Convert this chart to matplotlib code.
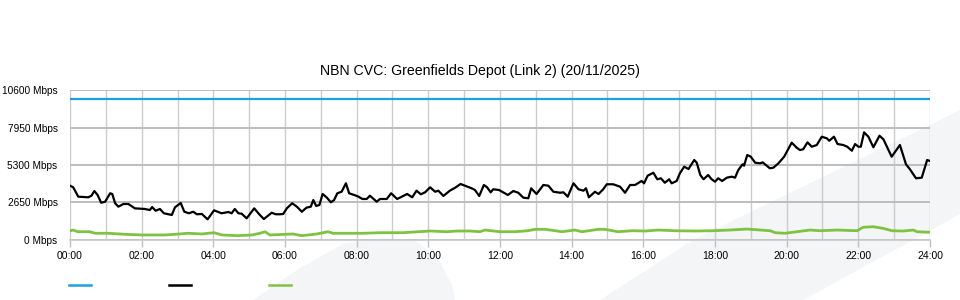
import matplotlib
matplotlib.use("Agg")
import matplotlib.pyplot as plt
from matplotlib.lines import Line2D
from matplotlib.patches import Polygon

plt.rcParams['font.family'] = ['Liberation Sans', 'DejaVu Sans']

title = "NBN CVC: Greenfields Depot (Link 2) (20/11/2025)"

# y axis
y_ticks = [0, 2650, 5300, 7950, 10600]
y_labels = ["0 Mbps", "2650 Mbps", "5300 Mbps", "7950 Mbps", "10600 Mbps"]

# x axis (hours of the day)
x_ticks = [0, 2, 4, 6, 8, 10, 12, 14, 16, 18, 20, 22, 24]
x_labels = ["00:00", "02:00", "04:00", "06:00", "08:00", "10:00", "12:00",
            "14:00", "16:00", "18:00", "20:00", "22:00", "24:00"]

# capacity line (blue)
cap_t = [0, 24]
cap_v = [10000, 10000]

# download traffic (black)
down_t = [0.00, 0.09, 0.23, 0.51, 0.60, 0.68, 0.77, 0.87, 0.98, 1.12, 1.18, 1.26,
          1.35, 1.49, 1.63, 1.81, 2.09, 2.23, 2.29, 2.39, 2.51, 2.62, 2.84, 2.93,
          3.09, 3.19, 3.32, 3.44, 3.54, 3.68, 3.84, 4.02, 4.23, 4.42, 4.51, 4.60,
          4.70, 4.79, 4.93, 5.14, 5.28, 5.41, 5.63, 5.74, 5.86, 5.95, 6.05, 6.20,
          6.33, 6.47, 6.60, 6.72, 6.79, 6.87, 6.96, 7.05, 7.16, 7.28, 7.37, 7.46,
          7.58, 7.70, 7.79, 7.93, 8.05, 8.16, 8.28, 8.37, 8.56, 8.65, 8.84, 8.96,
          9.13, 9.26, 9.41, 9.55, 9.67, 9.79, 9.91, 10.05, 10.19, 10.28, 10.42, 10.60,
          10.75, 10.90, 11.02, 11.21, 11.30, 11.42, 11.55, 11.64, 11.74, 11.81, 11.97, 12.22,
          12.37, 12.51, 12.65, 12.79, 12.87, 13.02, 13.21, 13.35, 13.49, 13.68, 13.77, 13.89,
          14.05, 14.19, 14.33, 14.40, 14.48, 14.65, 14.75, 14.88, 14.98, 15.16, 15.35, 15.49,
          15.63, 15.77, 15.95, 16.02, 16.12, 16.28, 16.39, 16.49, 16.60, 16.72, 16.79, 16.93,
          17.02, 17.14, 17.26, 17.42, 17.49, 17.59, 17.68, 17.81, 17.90, 18.00, 18.09, 18.20,
          18.33, 18.47, 18.56, 18.65, 18.77, 18.81, 18.90, 19.00, 19.12, 19.26, 19.33, 19.53,
          19.63, 19.77, 19.93, 20.14, 20.28, 20.37, 20.46, 20.58, 20.70, 20.84, 20.98, 21.12,
          21.19, 21.32, 21.42, 21.58, 21.69, 21.82, 21.91, 22.00, 22.07, 22.16, 22.28, 22.42,
          22.59, 22.70, 22.93, 23.16, 23.33, 23.44, 23.61, 23.77, 23.92, 24.00]
down_v = [3830, 3715, 3050, 3005, 3120, 3450, 3170, 2620, 2690, 3290, 3240, 2580,
          2340, 2530, 2530, 2220, 2175, 2100, 2315, 2050, 2175, 1870, 1750, 2295,
          2600, 1980, 1870, 1980, 1800, 1820, 1440, 2080, 1870, 1960, 1870, 2175,
          1870, 1840, 1510, 2220, 1800, 1460, 1910, 1800, 1800, 1820, 2220, 2580,
          2340, 1980, 2270, 2340, 2810, 2390, 2460, 3240, 3005, 2650, 2810, 3290,
          3400, 4000, 3290, 3170, 3050, 2885, 2885, 3120, 2690, 2885, 2885, 3290,
          2885, 3050, 3240, 3005, 3475, 3220, 3360, 3715, 3400, 3475, 3100, 3475,
          3690, 3950, 3830, 3645, 3525, 3100, 3880, 3715, 3360, 3575, 3525, 3170,
          3450, 3330, 2980, 2935, 3645, 3240, 3880, 3830, 3400, 3330, 3360, 3050,
          4000, 3575, 3475, 3645, 3005, 3400, 3240, 3575, 3930, 3930, 3760, 3330,
          3880, 3880, 4165, 4000, 4540, 4750, 4285, 4355, 4040, 4285, 4000, 4165,
          4710, 5180, 5015, 5655, 5465, 4590, 4285, 4590, 4300, 4115, 4355, 4165,
          4400, 4470, 4400, 4945, 5350, 5250, 6010, 5890, 5465, 5420, 5490, 5065,
          5110, 5420, 5890, 6885, 6530, 6365, 6415, 6910, 6600, 6720, 7310, 7195,
          7025, 7310, 6790, 6720, 6600, 6315, 6790, 6600, 6600, 7620, 7310, 6560,
          7380, 7125, 5890, 6720, 5350, 4995, 4355, 4400, 5655, 5585]

# upload traffic (green)
up_t = [0.00, 0.08, 0.22, 0.56, 0.70, 1.06, 1.54, 2.01, 2.65, 2.93, 3.29, 3.68,
        4.02, 4.24, 4.69, 5.08, 5.30, 5.44, 5.58, 6.00, 6.22, 6.47, 6.89, 7.20,
        7.34, 8.18, 8.65, 9.29, 10.05, 10.52, 10.80, 11.16, 11.44, 11.58, 12.00, 12.42,
        12.78, 12.98, 13.26, 13.73, 14.09, 14.29, 14.74, 14.93, 15.29, 15.69, 16.05, 16.41,
        16.88, 17.44, 17.92, 18.42, 18.89, 19.54, 19.68, 19.96, 20.29, 20.65, 20.93, 21.41,
        21.97, 22.13, 22.41, 22.69, 22.94, 23.25, 23.53, 23.64, 24.00]
up_v = [611, 680, 560, 560, 450, 450, 375, 330, 330, 375, 450, 400,
        490, 330, 280, 330, 450, 560, 330, 375, 400, 280, 400, 560,
        450, 450, 490, 490, 610, 560, 610, 610, 560, 680, 560, 560,
        630, 730, 730, 560, 680, 560, 730, 730, 560, 630, 610, 680,
        630, 610, 630, 680, 750, 630, 490, 450, 560, 680, 630, 680,
        630, 875, 915, 800, 630, 610, 680, 560, 520]

blue = '#1ba1e2'
green = '#7fc241'

W, H = 960, 300
fig = plt.figure(figsize=(9.6, 3.0), dpi=100)
fig.patch.set_facecolor('white')

# faint watermark shapes behind the chart (pixel coords -> figure fraction)
def px(points):
    return [(x / W, 1 - y / H) for x, y in points]

shade = '#f4f5f7'
fig.patches.append(Polygon(px([(253, 300), (300, 268), (345, 243), (385, 238), (415, 240),
                               (440, 262), (452, 285), (455, 300)]),
                           closed=True, transform=fig.transFigure, facecolor=shade,
                           edgecolor='none', zorder=-10))
fig.patches.append(Polygon(px([(600, 300), (693, 240), (930, 125), (960, 110), (960, 214),
                               (913, 240), (803, 300)]),
                           closed=True, transform=fig.transFigure, facecolor=shade,
                           edgecolor='none', zorder=-10))

ax = fig.add_axes([70 / W, 1 - 239.6 / H, 860 / W, 149.2 / H])
ax.patch.set_alpha(0)

ax.plot(cap_t, cap_v, color=blue, lw=1.6, zorder=3)
ax.plot(down_t, down_v, color='black', lw=1.6, zorder=4)
ax.plot(up_t, up_v, color=green, lw=2.0, zorder=3)

ax.set_xlim(0, 24)
ax.set_ylim(0, 10600)

ax.set_xticks(x_ticks)
ax.set_xticklabels(x_labels)
ax.set_xticks(range(25), minor=True)
ax.set_yticks(y_ticks)
ax.set_yticklabels(y_labels)

ax.grid(True, axis='x', which='both', color='#cccccc', lw=1.0, zorder=1)
ax.grid(True, axis='y', which='major', color='#bdbdbd', lw=1.4, zorder=1)

ax.tick_params(axis='x', which='major', length=5, width=1, color='#c0c0c0',
               labelsize=7.5, pad=3)
ax.tick_params(axis='x', which='minor', length=0)
ax.tick_params(axis='y', length=0, labelsize=7.3, pad=9)

for side in ['top', 'left', 'right']:
    ax.spines[side].set_visible(False)
ax.spines['bottom'].set_color('#c8c8c8')
ax.spines['bottom'].set_linewidth(1.2)

fig.text(0.5, 1 - 71 / H, title, ha='center', va='center', fontsize=10.2)

# legend swatches, labels are empty in the source
for x0, c in [(69, blue), (169, 'black'), (269, green)]:
    fig.add_artist(Line2D([x0 / W, (x0 + 22) / W], [1 - 285 / H, 1 - 285 / H],
                          transform=fig.transFigure, color=c, lw=1.8))

fig.savefig('out.png', dpi=100)
